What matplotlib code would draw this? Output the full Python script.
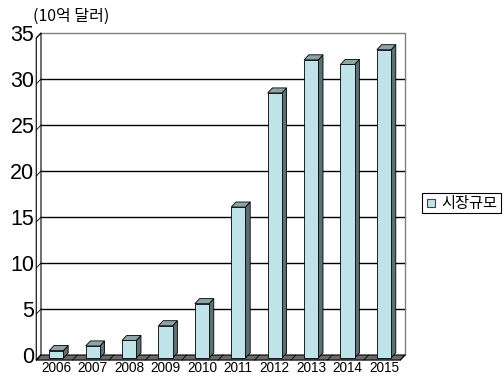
import numpy as np
import matplotlib
matplotlib.use('Agg')
from matplotlib import pyplot as plt
from matplotlib.patches import Polygon, Rectangle

# data
years = ['2006', '2007', '2008', '2009', '2010', '2011', '2012', '2013', '2014', '2015']
market = [0.7, 1.2, 1.8, 3.4, 5.8, 16.3, 28.7, 32.3, 31.8, 33.4]
yticks = [0, 5, 10, 15, 20, 25, 30, 35]
unit_label = '(10억 달러)'
series_name = '시장규모'

W, H = 504, 378
fig = plt.figure(figsize=(W / 100, H / 100), dpi=100)
# axes = back wall of the 3d chart, in pixels
x0, x1, ytop, ybot = 41, 405, 33, 355
ax = fig.add_axes([x0 / W, 1 - ybot / H, (x1 - x0) / W, (ybot - ytop) / H])
ax.set_xlim(-0.5, len(years) - 0.5)
ax.set_ylim(0, 35)
for s in ax.spines.values():
    s.set_visible(False)
ax.set_xticks([])
ax.set_yticks([])

# depth of the 3d effect in data units
dx, dy = 0.13, 0.55
front = '#c0e2e9'
side = '#5c6f73'
top = '#8da4a9'

# back wall border and gridlines
ax.plot([-0.5, 9.5, 9.5], [35, 35, 0], color='#808080', lw=1, clip_on=False)
for t in yticks[1:-1]:
    ax.plot([-0.5, 9.5], [t, t], color='black', lw=1, clip_on=False, zorder=1)

# left wall
ax.add_patch(Polygon([(-0.5 - dx, -dy), (-0.5, 0), (-0.5, 35), (-0.5 - dx, 35 - dy)],
                     closed=True, fc='white', ec='black', lw=0.8, clip_on=False, zorder=2))
for t in yticks:
    ax.plot([-0.5 - dx, -0.5], [t - dy, t], color='black', lw=0.6, clip_on=False, zorder=2)

# floor
ax.add_patch(Polygon([(-0.5 - dx, -dy), (9.5 - dx, -dy), (9.5, 0), (-0.5, 0)],
                     closed=True, fc='#6a6a6a', ec='black', lw=0.8, clip_on=False, zorder=2))
for i in range(len(years) + 1):
    ax.plot([i - 0.5 - dx, i - 0.5], [-dy, 0], color='black', lw=0.6, clip_on=False, zorder=2)

# bars
bw = 0.39
for i, v in enumerate(market):
    xl = i - bw / 2 - dx * 0.6
    xr = xl + bw
    yb = -dy * 0.6
    yt = v - dy * 0.4
    ax.add_patch(Polygon([(xr, yb), (xr + dx, yb + dy), (xr + dx, yt + dy), (xr, yt)],
                         closed=True, fc=side, ec='black', lw=0.6, clip_on=False, zorder=3))
    ax.add_patch(Polygon([(xl, yt), (xl + dx, yt + dy), (xr + dx, yt + dy), (xr, yt)],
                         closed=True, fc=top, ec='black', lw=0.6, clip_on=False, zorder=3))
    ax.add_patch(Rectangle((xl, yb), bw, yt - yb, fc=front, ec='black', lw=0.6,
                           clip_on=False, zorder=4))
    ax.text(i - dx * 0.6, -dy - 0.15, years[i], ha='center', va='top', fontsize=9.8,
            family=['Liberation Sans', 'DejaVu Sans'], clip_on=False)

# y tick labels
for t in yticks:
    ax.text(-0.5 - dx - 0.05, t - dy * 0.5, str(t), ha='right', va='center', fontsize=15.5,
            family=['Liberation Sans', 'DejaVu Sans'])

fig.text(33 / W, 1 - 16 / H, unit_label, ha='left', va='center', fontsize=11.5,
         family=['Noto Sans CJK KR', 'DejaVu Sans'])

# legend box
lx0, ly0, lx1, ly1 = 422, 193, 501, 213
fig.patches.append(Rectangle((lx0 / W, 1 - ly1 / H), (lx1 - lx0) / W, (ly1 - ly0) / H,
                             transform=fig.transFigure, fc='white', ec='black', lw=0.8))
fig.patches.append(Rectangle((427 / W, 1 - 207 / H), 8 / W, 8 / H,
                             transform=fig.transFigure, fc=front, ec='#404040', lw=0.8))
fig.text(441 / W, 1 - 203 / H, series_name, ha='left', va='center', fontsize=11,
         family=['Noto Sans CJK KR', 'DejaVu Sans'])

fig.savefig('out.png', dpi=100)
